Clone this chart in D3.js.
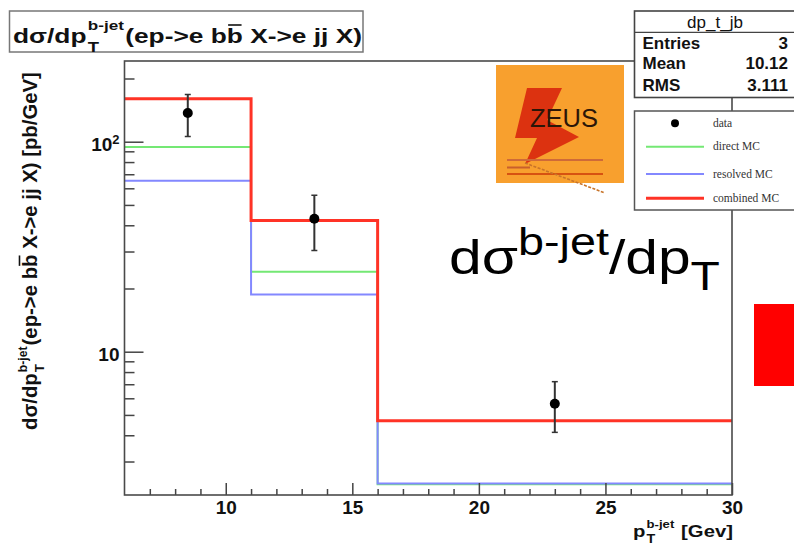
<!DOCTYPE html>
<html>
<head>
<meta charset="utf-8">
<script src="https://cdn.jsdelivr.net/npm/d3@7"></script>
<style>
  body { margin: 0; background: #fff; }
  svg { display: block; }
</style>
</head>
<body>
<svg id="chart" width="794" height="547"></svg>
<script>
// ---- data ----
const binEdges   = [6, 11, 16, 30];          // pT bin edges [GeV]
const directMC   = [94.4, 24.0, 2.34];       // pb/GeV
const resolvedMC = [65.2, 18.7, 2.36];
const combinedMC = [160, 42.2, 4.69];
const dataPt     = [8.5, 13.5, 23];
const dataVal    = [137, 43, 5.65];
const dataHi     = [168, 55.6, 7.2];
const dataLo     = [106, 30.3, 4.13];
const xMajorTicks = [10, 15, 20, 25, 30];
const yMajorTicks = [10, 100];
const statsTitle = "dp_t_jb";
const statsNames  = ["Entries", "Mean", "RMS"];
const statsValues = ["3", "10.12", "3.111"];
const legendLabels = ["data", "direct MC", "resolved MC", "combined MC"];

const FONT = "'Liberation Sans', Arial, Helvetica, sans-serif";
const SERIF = "'Liberation Serif', 'Times New Roman', serif";
const svg = d3.select("#chart");

// ---- frame & scales ----
const X0 = 124.5, X1 = 732, Y0 = 61, Y1 = 495;
const x = d3.scaleLinear().domain([6, 30]).range([X0, X1]);
const y = d3.scaleLog().domain([2.078, 242.3]).range([Y1, Y0]);

svg.append("defs").append("clipPath").attr("id", "plotArea")
  .append("rect").attr("x", X0).attr("y", Y0).attr("width", X1 - X0).attr("height", Y1 - Y0);

const plot = svg.append("g").attr("clip-path", "url(#plotArea)");

// histogram outlines (step lines)
const step = d3.line().x(d => x(d[0])).y(d => y(d[1])).curve(d3.curveStepAfter);
const series = [
  { vals: directMC,   color: "#74e874", w: 2 },
  { vals: resolvedMC, color: "#8388ff", w: 2 },
  { vals: combinedMC, color: "#ff3326", w: 3 }
];
series.forEach(s => {
  const pts = s.vals.map((v, i) => [binEdges[i], v]);
  pts.push([binEdges[binEdges.length - 1], s.vals[s.vals.length - 1]]);
  plot.append("path").attr("d", step(pts))
    .attr("fill", "none").attr("stroke", s.color).attr("stroke-width", s.w);
});

// data points with error bars
const pts = dataPt.map((p, i) => ({ p, v: dataVal[i], hi: dataHi[i], lo: dataLo[i] }));
const pg = plot.selectAll("g.pt").data(pts).join("g").attr("class", "pt");
pg.append("line").attr("x1", d => x(d.p)).attr("x2", d => x(d.p))
  .attr("y1", d => y(d.hi)).attr("y2", d => y(d.lo))
  .attr("stroke", "#333").attr("stroke-width", 2);
pg.append("line").attr("x1", d => x(d.p) - 3).attr("x2", d => x(d.p) + 3)
  .attr("y1", d => y(d.hi)).attr("y2", d => y(d.hi)).attr("stroke", "#333").attr("stroke-width", 1.5);
pg.append("line").attr("x1", d => x(d.p) - 3).attr("x2", d => x(d.p) + 3)
  .attr("y1", d => y(d.lo)).attr("y2", d => y(d.lo)).attr("stroke", "#333").attr("stroke-width", 1.5);
pg.append("circle").attr("cx", d => x(d.p)).attr("cy", d => y(d.v)).attr("r", 5).attr("fill", "#000");

// ---- axes ----
function styleAxis(g) {
  g.select(".domain").remove();
  g.selectAll(".tick line").attr("stroke", "#444").attr("stroke-width", 1.5);
  g.selectAll("text").attr("font-family", FONT).attr("font-weight", "bold")
    .attr("font-size", 19).attr("fill", "#111");
}
const xMinor = d3.range(7, 30).filter(v => !xMajorTicks.includes(v));
svg.append("g").attr("transform", `translate(0,${Y1})`)
  .call(d3.axisBottom(x).tickValues(xMinor).tickSizeInner(-6).tickSizeOuter(0).tickFormat(""))
  .call(styleAxis);
svg.append("g").attr("transform", `translate(0,${Y1})`)
  .call(d3.axisBottom(x).tickValues(xMajorTicks).tickSizeInner(-12).tickSizeOuter(0).tickPadding(6).tickFormat(d3.format("d")))
  .call(styleAxis);

const yMinor = y.ticks().filter(v => !yMajorTicks.includes(v));
svg.append("g").attr("transform", `translate(${X0},0)`)
  .call(d3.axisLeft(y).tickValues(yMinor).tickSizeInner(-10).tickSizeOuter(0).tickFormat(""))
  .call(styleAxis);
const yAx = svg.append("g").attr("transform", `translate(${X0},0)`)
  .call(d3.axisLeft(y).tickValues(yMajorTicks).tickSizeInner(-19).tickSizeOuter(0).tickPadding(5).tickFormat(() => "10"))
  .call(styleAxis);
yAx.selectAll(".tick text").attr("dy", "0.45em").each(function (d) {
  const e = Math.round(Math.log10(d));
  if (e !== 1) {
    d3.select(this).append("tspan").attr("dy", "-0.55em").attr("font-size", 13).text(e);
  }
});

// frame
svg.append("rect").attr("x", X0).attr("y", Y0).attr("width", X1 - X0).attr("height", Y1 - Y0)
  .attr("fill", "none").attr("stroke", "#4a4a4a").attr("stroke-width", 1.6);

// ---- text helpers ----
// Lays out  pre + (sup over sub) + post  in a group; returns the natural width.
function scriptLabel(g, o) {
  const base = s => s.attr("font-family", FONT).attr("font-weight", o.weight || "bold").attr("fill", o.fill || "#111");
  const t1 = base(g.append("text")).attr("x", 0).attr("y", 0).attr("font-size", o.size).text(o.pre);
  const w1 = t1.node().getComputedTextLength() + 1;
  let ws = 0, wb = 0;
  if (o.sup) {
    const s = base(g.append("text")).attr("x", w1).attr("y", -o.supRise).attr("font-size", o.supSize).text(o.sup);
    ws = s.node().getComputedTextLength();
  }
  if (o.sub) {
    const s = base(g.append("text")).attr("x", w1).attr("y", o.subDrop).attr("font-size", o.subSize).text(o.sub);
    wb = s.node().getComputedTextLength();
  }
  let w = w1 + Math.max(ws, wb);
  if (o.post) {
    const px = w + 1;
    const t2 = base(g.append("text")).attr("x", px).attr("y", 0).attr("font-size", o.size).text(o.post);
    // overline on the anti-b quark
    if (o.barIndex != null) {
      const r = t2.node().getExtentOfChar(o.barIndex);
      g.append("line").attr("x1", r.x + 1).attr("x2", r.x + r.width - 1)
        .attr("y1", r.y + 0.5).attr("y2", r.y + 0.5)
        .attr("stroke", o.fill || "#111").attr("stroke-width", Math.max(1.2, o.size * 0.08));
    }
    w = px + t2.node().getComputedTextLength();
  }
  return w;
}
const procText = "(ep->e bb X->e jj X)";
const barIdx = procText.indexOf("bb") + 1;

// ---- title box ----
svg.append("rect").attr("x", 9.5).attr("y", 11).attr("width", 353.5).attr("height", 41)
  .attr("fill", "#fff").attr("stroke", "#777").attr("stroke-width", 1.5);
{
  const g = svg.append("g");
  const w = scriptLabel(g, { pre: "dσ/dp", sup: "b-jet", sub: "T", post: procText, barIndex: barIdx,
    size: 20, supSize: 13, supRise: 12.5, subSize: 14, subDrop: 9 });
  g.attr("transform", `translate(13,42.5) scale(${349 / w},1)`);
}

// ---- y axis title ----
{
  const g = svg.append("g");
  const w = scriptLabel(g, { pre: "dσ/dp", sup: "b-jet", sub: "T", post: procText + "\u00a0[pb/GeV]", barIndex: barIdx,
    size: 20, supSize: 12, supRise: 10, subSize: 13, subDrop: 7 });
  g.attr("transform", `translate(37,430) rotate(-90) scale(${358 / w},1)`);
}

// ---- x axis title ----
{
  const g = svg.append("g");
  const w = scriptLabel(g, { pre: "p", sup: "b-jet", sub: "T", post: "\u00a0[Gev]",
    size: 17, supSize: 11, supRise: 9, subSize: 12, subDrop: 6 });
  g.attr("transform", `translate(633,537) scale(${100 / w},1)`);
}

// ---- ZEUS logo ----
{
  const g = svg.append("g");
  g.append("rect").attr("x", 496).attr("y", 65).attr("width", 128).attr("height", 118).attr("fill", "#f8a02e");
  g.append("polygon")
    .attr("points", [[527, 88], [562, 88], [547, 120], [579, 137], [525, 164], [537, 138], [515, 138]].map(p => p.join(",")).join(" "))
    .attr("fill", "#dc3210");
  g.append("text").attr("x", 530).attr("y", 127).attr("font-family", FONT).attr("font-size", 25)
    .attr("textLength", 68).attr("lengthAdjust", "spacingAndGlyphs").attr("fill", "#2b1608").text("ZEUS");
  g.append("line").attr("x1", 507).attr("x2", 603).attr("y1", 160).attr("y2", 160).attr("stroke", "#cf6a38").attr("stroke-width", 2);
  g.append("line").attr("x1", 507).attr("x2", 530).attr("y1", 167.5).attr("y2", 167.5).attr("stroke", "#c95f2c").attr("stroke-width", 2);
  g.append("line").attr("x1", 507).attr("x2", 603).attr("y1", 174).attr("y2", 174).attr("stroke", "#cc3808").attr("stroke-width", 1.5);
  g.append("line").attr("x1", 525).attr("y1", 163).attr("x2", 605).attr("y2", 193)
    .attr("stroke", "#c8742a").attr("stroke-width", 1.6).attr("stroke-dasharray", "3,1.5");
}

// ---- statistics box ----
{
  const g = svg.append("g");
  g.append("rect").attr("x", 634.5).attr("y", 11).attr("width", 170).attr("height", 86.5)
    .attr("fill", "#fff").attr("stroke", "#444").attr("stroke-width", 1.6);
  g.append("line").attr("x1", 634.5).attr("x2", 800).attr("y1", 32.3).attr("y2", 32.3).attr("stroke", "#444").attr("stroke-width", 1.3);
  g.append("text").attr("x", 715).attr("y", 27.5).attr("text-anchor", "middle").attr("font-family", FONT)
    .attr("font-size", 17).attr("fill", "#111").text(statsTitle);
  const rowY = [48.5, 69, 90.5];
  statsNames.forEach((n, i) => {
    g.append("text").attr("x", 642.5).attr("y", rowY[i]).attr("font-family", FONT).attr("font-weight", "bold")
      .attr("font-size", 17).attr("fill", "#111").text(n);
    g.append("text").attr("x", 788).attr("y", rowY[i]).attr("text-anchor", "end").attr("font-family", FONT)
      .attr("font-weight", "bold").attr("font-size", 17).attr("fill", "#111").text(statsValues[i]);
  });
}

// ---- legend ----
{
  const g = svg.append("g");
  g.append("rect").attr("x", 634.5).attr("y", 111).attr("width", 170).attr("height", 99)
    .attr("fill", "#fff").attr("stroke", "#555").attr("stroke-width", 1.5);
  const rowY = [123.3, 146.7, 174, 198.3];
  g.append("circle").attr("cx", 675).attr("cy", rowY[0]).attr("r", 4).attr("fill", "#000");
  [series[0], series[1], series[2]].forEach((s, i) => {
    g.append("line").attr("x1", 646).attr("x2", 704).attr("y1", rowY[i + 1]).attr("y2", rowY[i + 1])
      .attr("stroke", s.color).attr("stroke-width", s.w);
  });
  legendLabels.forEach((l, i) => {
    g.append("text").attr("x", 713).attr("y", rowY[i] + 3.5).attr("font-family", SERIF)
      .attr("font-size", 11.5).attr("fill", "#333").text(l);
  });
}

// ---- overlaid heading ----
{
  const g = svg.append("g");
  const t = g.append("text").attr("x", 0).attr("y", 0).attr("font-family", FONT).attr("font-size", 49).attr("fill", "#000");
  t.append("tspan").text("dσ");
  t.append("tspan").attr("dy", -19).attr("font-size", 39).text("b-jet");
  t.append("tspan").attr("dy", 19).text("/dp");
  t.append("tspan").attr("dy", 16).attr("font-size", 40).text("T");
  const w = t.node().getComputedTextLength();
  g.attr("transform", `translate(449,274) scale(${271 / w},1)`);
}

// red marker block
svg.append("rect").attr("x", 754).attr("y", 304).attr("width", 40).attr("height", 82).attr("fill", "#ff0000");
</script>
</body>
</html>
